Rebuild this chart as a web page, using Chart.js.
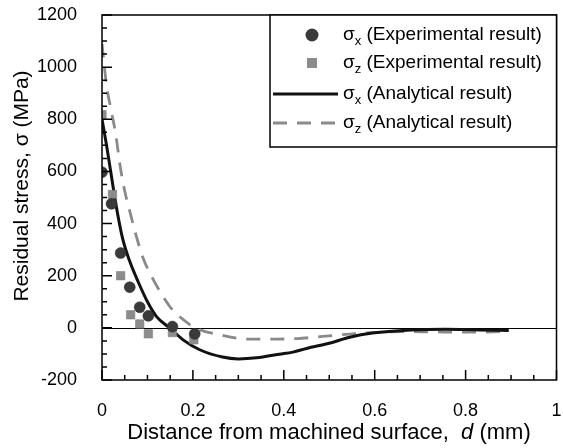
<!DOCTYPE html>
<html>
<head>
<meta charset="utf-8">
<script src="https://cdn.jsdelivr.net/npm/chart.js@4.4.0/dist/chart.umd.min.js"></script>
<style>body{margin:0;background:#fff}</style>
</head>
<body>
<canvas id="chart" width="563" height="448"></canvas>
<script>
// Experimental points
const expXDepth = [0, 0.021, 0.041, 0.061, 0.083, 0.102, 0.155, 0.204];
const expXStress = [597, 476, 287, 156, 79, 46, 5, -23];
const expZDepth = [0, 0.023, 0.041, 0.063, 0.083, 0.102, 0.155, 0.202];
const expZStress = [817, 512, 200, 50, 15, -23, -18, -46];

// Analytical curves
const anaXDepth = [0, 0.01, 0.02, 0.03, 0.045, 0.06, 0.08, 0.1, 0.12, 0.15, 0.18, 0.215, 0.265, 0.3, 0.34, 0.39, 0.42, 0.45, 0.5, 0.545, 0.595, 0.68, 0.755, 0.83, 0.895];
const anaXStress = [800, 700, 590, 480, 345, 260, 175, 100, 43, -2, -48, -84, -112, -119, -115, -101, -93, -79, -59, -36, -20, -8, -5, -8, -10];
const anaZDepth = [0, 0.01, 0.02, 0.03, 0.04, 0.05, 0.06, 0.075, 0.09, 0.115, 0.15, 0.18, 0.205, 0.26, 0.32, 0.38, 0.43, 0.485, 0.545, 0.61, 0.68, 0.755, 0.83, 0.895];
const anaZStress = [1090, 930, 835, 745, 620, 525, 455, 355, 270, 178, 80, 30, 0, -27, -43, -43, -41, -33, -24, -17, -14, -16, -16, -14];

const xTickLabels = ['0', '0.2', '0.4', '0.6', '0.8', '1'];
const yTickLabels = ['-200', '0', '200', '400', '600', '800', '1000', '1200'];

const FONT = "'Liberation Sans', Arial, Helvetica, sans-serif";
const pts = (xs, ys) => xs.map((x, i) => ({ x, y: ys[i] }));

// frame, inward ticks, zero line, titles and legend
const decor = {
    id: 'decor',
    beforeDatasetsDraw(chart) {
        const { ctx, chartArea: a, scales: { y } } = chart;
        ctx.save();
        ctx.strokeStyle = '#000';
        ctx.lineWidth = 1;
        const y0 = Math.round(y.getPixelForValue(0)) + 0.5;
        ctx.beginPath();
        ctx.moveTo(a.left, y0);
        ctx.lineTo(a.right, y0);
        ctx.stroke();
        ctx.restore();
    },
    afterDatasetsDraw(chart) {
        const { ctx, chartArea: a, scales: { x, y } } = chart;
        ctx.save();
        ctx.strokeStyle = '#000';
        ctx.lineWidth = 1.5;
        ctx.strokeRect(a.left, a.top, a.right - a.left, a.bottom - a.top);

        ctx.beginPath();
        for (let v = -200; v <= 1200; v += 50) {
            const py = y.getPixelForValue(v);
            const len = v % 200 === 0 ? 10 : 5;
            ctx.moveTo(a.left, py);
            ctx.lineTo(a.left + len, py);
        }
        for (let i = 0; i <= 20; i++) {
            const px = x.getPixelForValue(i * 0.05);
            const len = i % 4 === 0 ? 10 : 5;
            ctx.moveTo(px, a.bottom);
            ctx.lineTo(px, a.bottom - len);
        }
        ctx.stroke();

        // axis titles
        ctx.fillStyle = '#000';
        ctx.textBaseline = 'middle';
        ctx.textAlign = 'center';
        ctx.save();
        ctx.translate(22, 186);
        ctx.rotate(-Math.PI / 2);
        ctx.font = `21px ${FONT}`;
        ctx.fillText('Residual stress, σ (MPa)', 0, 0);
        ctx.restore();

        const parts = [
            ['Distance from machined surface,  ', `22px ${FONT}`],
            ['d', `italic 22px ${FONT}`],
            [' (mm)', `22px ${FONT}`],
        ];
        let total = 0;
        parts.forEach(([t, f]) => { ctx.font = f; total += ctx.measureText(t).width; });
        let tx = 329 - total / 2;
        ctx.textAlign = 'left';
        parts.forEach(([t, f]) => {
            ctx.font = f;
            ctx.fillText(t, tx, 433);
            tx += ctx.measureText(t).width;
        });

        // legend box
        const lx = 270, ly = a.top, lw = a.right - lx, lh = 132;
        ctx.fillStyle = '#fff';
        ctx.fillRect(lx, ly, lw, lh);
        ctx.strokeRect(lx, ly, lw, lh);

        const rows = [
            { yc: 35, sub: 'x', label: ' (Experimental result)', mark: 'circle' },
            { yc: 63, sub: 'z', label: ' (Experimental result)', mark: 'square' },
            { yc: 94, sub: 'x', label: ' (Analytical result)', mark: 'solid' },
            { yc: 123, sub: 'z', label: ' (Analytical result)', mark: 'dash' },
        ];
        rows.forEach(r => {
            if (r.mark === 'circle') {
                ctx.fillStyle = '#3a3a3a';
                ctx.beginPath();
                ctx.arc(312, r.yc, 6.5, 0, Math.PI * 2);
                ctx.fill();
            } else if (r.mark === 'square') {
                ctx.fillStyle = '#8c8c8c';
                ctx.fillRect(307, r.yc - 5, 10, 10);
            } else {
                ctx.beginPath();
                ctx.lineWidth = 2.8;
                ctx.strokeStyle = r.mark === 'solid' ? '#111' : '#8a8a8a';
                ctx.setLineDash(r.mark === 'solid' ? [] : [14, 10]);
                ctx.moveTo(273, r.yc);
                ctx.lineTo(338, r.yc);
                ctx.stroke();
                ctx.setLineDash([]);
            }
            ctx.fillStyle = '#000';
            ctx.textAlign = 'left';
            ctx.font = `19px ${FONT}`;
            let px = 343;
            ctx.fillText('σ', px, r.yc);
            px += ctx.measureText('σ').width;
            ctx.font = `13px ${FONT}`;
            ctx.fillText(r.sub, px, r.yc + 6);
            px += ctx.measureText(r.sub).width;
            ctx.font = `19px ${FONT}`;
            ctx.fillText(r.label, px, r.yc);
        });
        ctx.restore();
    }
};

new Chart(document.getElementById('chart'), {
    type: 'scatter',
    data: {
        datasets: [
            {
                label: 'σx (Experimental result)',
                data: pts(expXDepth, expXStress),
                pointStyle: 'circle',
                pointRadius: 5.5,
                backgroundColor: '#3a3a3a',
                borderColor: '#2a2a2a',
                borderWidth: 0.5,
            },
            {
                label: 'σz (Experimental result)',
                data: pts(expZDepth, expZStress),
                pointStyle: 'rect',
                pointRadius: 6,
                backgroundColor: '#8c8c8c',
                borderColor: '#7a7a7a',
                borderWidth: 0.5,
            },
            {
                label: 'σx (Analytical result)',
                data: pts(anaXDepth, anaXStress),
                showLine: true,
                pointRadius: 0,
                borderColor: '#111',
                borderWidth: 3,
                cubicInterpolationMode: 'monotone',
            },
            {
                label: 'σz (Analytical result)',
                data: pts(anaZDepth, anaZStress),
                showLine: true,
                pointRadius: 0,
                borderColor: '#8a8a8a',
                borderWidth: 2.8,
                borderDash: [14, 10],
                cubicInterpolationMode: 'monotone',
            },
        ],
    },
    options: {
        responsive: false,
        animation: false,
        layout: { padding: { top: 15, right: 5, left: 0, bottom: 0 } },
        plugins: { legend: { display: false }, tooltip: { enabled: false } },
        scales: {
            x: {
                type: 'linear',
                min: 0,
                max: 1,
                grid: { display: false },
                border: { display: false },
                ticks: {
                    stepSize: 0.2,
                    padding: 12,
                    color: '#000',
                    font: { family: FONT, size: 18 },
                    maxRotation: 0,
                    callback: (v, i) => xTickLabels[i],
                },
                afterFit: s => {
                    s.height = 68;
                    s.paddingLeft = 0;
                    s.paddingRight = 0;
                },
            },
            y: {
                type: 'linear',
                min: -200,
                max: 1200,
                grid: { display: false },
                border: { display: false },
                ticks: {
                    stepSize: 200,
                    padding: 17,
                    color: '#000',
                    font: { family: FONT, size: 18 },
                    callback: (v, i) => yTickLabels[i],
                },
                afterFit: s => {
                    s.width = 102;
                    s.paddingTop = 0;
                    s.paddingBottom = 0;
                },
            },
        },
    },
    plugins: [decor],
});
</script>
</body>
</html>
